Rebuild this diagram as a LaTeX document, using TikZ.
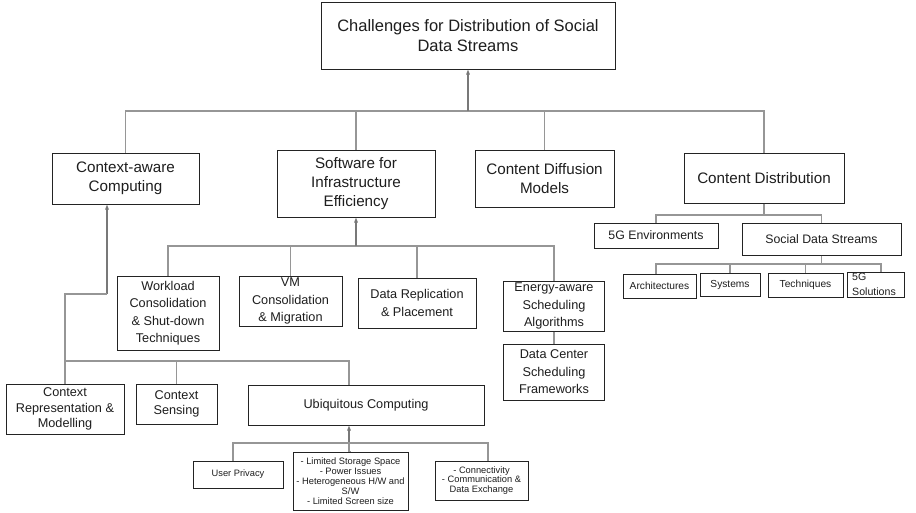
\documentclass[tikz,border=0pt]{standalone}
\usepackage{fontspec}
\setmainfont{Liberation Sans}
\usetikzlibrary{arrows.meta}
\definecolor{boxc}{RGB}{35,35,35}
\definecolor{linec}{RGB}{150,150,150}
\definecolor{arrc}{RGB}{120,120,120}
\definecolor{txtc}{RGB}{30,30,30}
\newcommand{\fTitle}{\fontsize{16.5}{20}\selectfont}
\newcommand{\fOne}{\fontsize{15.2}{19}\selectfont}
\newcommand{\fTwo}{\fontsize{12.7}{17.5}\selectfont}
\newcommand{\fTwoB}{\fontsize{12.7}{15.5}\selectfont}
\newcommand{\fThree}{\fontsize{12.3}{15}\selectfont}
\newcommand{\fFour}{\fontsize{10.2}{14}\selectfont}
\newcommand{\fFive}{\fontsize{9.3}{9.9}\selectfont}
\tikzset{
  box/.style={draw=boxc, line width=1pt, inner sep=0pt, align=center, text=txtc},
  conn/.style={draw=linec, line width=1.2pt},
  arr/.style={draw=arrc, line width=1.2pt, -{Triangle[length=5pt,width=3.5pt]}}
}
\begin{document}
\begin{tikzpicture}[x=1pt,y=-1pt]
\useasboundingbox[fill=white] (0,0) rectangle (916,512);
% top
\node[box, minimum width=294, minimum height=67, font=\fTitle] (top) at (468,35.5) {Challenges for Distribution of Social\\Data Streams};
% level 1
\node[box, minimum width=147, minimum height=51, font=\fOne] (ctx) at (125.5,178.5) {Context-aware\\Computing};
\node[box, minimum width=158, minimum height=67, font=\fOne] (sw) at (356,183.5) {Software for\\Infrastructure\\Efficiency};
\node[box, minimum width=139, minimum height=57, font=\fOne] (cdm) at (544.5,178.5) {Content Diffusion\\Models};
\node[box, minimum width=160, minimum height=50, font=\fOne] (cd) at (764,178) {Content Distribution};
% content distribution children
\node[box, minimum width=124, minimum height=25, font=\fThree] (g5) at (656,235.5) {5G Environments};
\node[box, minimum width=159, minimum height=32, font=\fThree] (sds) at (821.5,239) {Social Data Streams};
\node[box, minimum width=73, minimum height=24, font=\fFour] (arch) at (659.5,286) {Architectures};
\node[box, minimum width=60, minimum height=23, font=\fFour] (sys) at (730,284.5) {Systems};
\node[box, minimum width=75, minimum height=24, font=\fFour] (tech) at (805.5,285) {Techniques};
\node[box, minimum width=57, minimum height=25] (sol) at (875.5,284.5) {};
\node[anchor=north west, align=left, inner sep=0pt, font=\fontsize{10.6}{14.5}\selectfont, text=txtc] (soltxt) at (852,273) {5G\\Solutions};
% software children
\node[box, minimum width=102, minimum height=74, font=\fTwo] (wl) at (168,313) {Workload\\Consolidation\\\& Shut-down\\Techniques};
\node[box, minimum width=103, minimum height=50, font=\fTwo] (vm) at (290.5,301) {VM\\Consolidation\\\& Migration};
\node[box, minimum width=118, minimum height=50, font=\fTwo] (dr) at (417,303) {Data Replication\\\& Placement};
\node[box, minimum width=101, minimum height=50, font=\fTwo] (ea) at (554,306) {Energy-aware\\Scheduling\\Algorithms};
\node[box, minimum width=101, minimum height=56, font=\fTwo] (dc) at (554,372) {Data Center\\Scheduling\\Frameworks};
% context children
\node[box, minimum width=118, minimum height=50, font=\fTwoB] (cr) at (65,409) {Context\\Representation \&\\Modelling};
\node[box, minimum width=81, minimum height=40, font=\fTwoB] (cs) at (176.5,404) {Context\\Sensing};
\node[box, minimum width=236, minimum height=40, font=\fTwo] (ubi) at (366,405) {Ubiquitous Computing};
% ubiquitous children
\node[box, minimum width=90, minimum height=27, font=\fFive] (upv) at (238,474.5) {User Privacy};
\node[box, minimum width=115, minimum height=58, font=\fFive] (mid) at (350.5,481) {- Limited Storage Space\\- Power Issues\\- Heterogeneous H/W and\\S/W\\- Limited Screen size};
\node[box, minimum width=93, minimum height=39, font=\fFive] (cnx) at (481.5,480.5) {- Connectivity\\- Communication \&\\Data Exchange};
% bus coordinates
\coordinate (busA) at (468,111);
\coordinate (busB) at (356,246);
\coordinate (ctxA) at (107,294);
\coordinate (busC) at (349,361);
\coordinate (busD) at (349,443);
\coordinate (d1) at (233,443);
\coordinate (d3) at (488,443);
\coordinate (busE) at (764,215);
\coordinate (busF) at (821.5,264);
\coordinate (f1) at (656,264);
\coordinate (f4) at (881,264);
% main bus
\draw[conn] (ctx.north) |- (busA) -| (cd.north);
\draw[conn] (sw.north) -- (sw.north |- busA);
\draw[conn] (cdm.north) -- (cdm.north |- busA);
\draw[arr] (busA) -- (top.south);
% content distribution
\draw[conn] (cd.south) -- (busE);
\draw[conn] (g5.north) |- (busE) -| (sds.north);
\draw[conn] (sds.south) -- (busF);
\draw[conn] (f1 |- arch.north) -- (f1) -- (f4) -- (f4 |- sol.north);
\draw[conn] (sys.north) -- (sys.north |- busF);
\draw[conn] (tech.north) -- (tech.north |- busF);
% software
\draw[conn] (wl.north) |- (ea.north |- busB) -- (ea.north);
\draw[conn] (vm.north) -- (vm.north |- busB);
\draw[conn] (dr.north) -- (dr.north |- busB);
\draw[arr] (busB) -- (sw.south);
\draw[conn] (ea.south) -- (dc.north);
% context
\draw[arr] (ctxA) -- (ctxA |- ctx.south);
\draw[conn] (ctxA) -| (cr.north);
\draw[conn] (cr.north |- busC) -- (busC) -- (busC |- ubi.north);
\draw[conn] (cs.north) -- (cs.north |- busC);
% ubiquitous
\draw[arr] (busD) -- (busD |- ubi.south);
\draw[conn] (d1 |- upv.north) -- (d1) -- (d3) -- (d3 |- cnx.north);
\draw[conn] (mid.north) -- (mid.north -| busD) -- (busD);
\end{tikzpicture}
\end{document}
